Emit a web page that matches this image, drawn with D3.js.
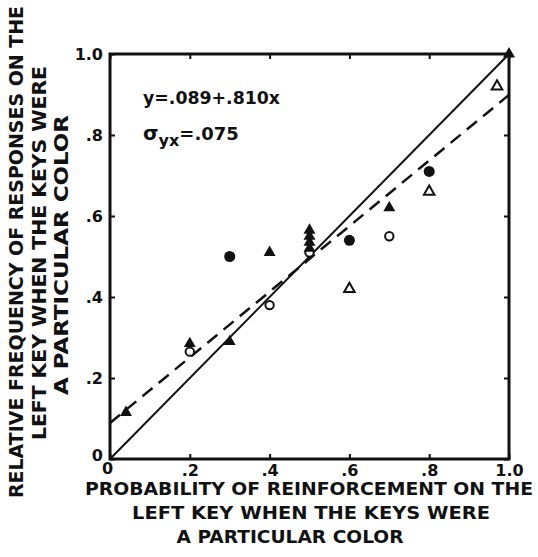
<!DOCTYPE html>
<html>
<head>
<meta charset="utf-8">
<script src="https://cdn.jsdelivr.net/npm/d3@7"></script>
<style>
  body { margin: 0; background: #fff; }
  text { font-family: "DejaVu Sans", sans-serif; font-weight: bold; fill: #111; }
</style>
</head>
<body>
<div id="chart"></div>
<script>
// data
const tickValues = [0, 0.2, 0.4, 0.6, 0.8, 1.0];
const tickLabels = ['0', '.2', '.4', '.6', '.8', '1.0'];

const filledCircles = [
  { x: 0.3, y: 0.50 }, { x: 0.6, y: 0.54 }, { x: 0.8, y: 0.71 }
];
const openCircles = [
  { x: 0.2, y: 0.265 }, { x: 0.4, y: 0.38 }, { x: 0.5, y: 0.51 }, { x: 0.7, y: 0.55 }
];
const filledTriangles = [
  { x: 0.04, y: 0.115 }, { x: 0.2, y: 0.285 }, { x: 0.3, y: 0.29 }, { x: 0.4, y: 0.51 },
  { x: 0.5, y: 0.52 }, { x: 0.5, y: 0.535 }, { x: 0.5, y: 0.55 }, { x: 0.5, y: 0.565 },
  { x: 0.7, y: 0.62 }, { x: 1.0, y: 1.0 }
];
const openTriangles = [
  { x: 0.6, y: 0.42 }, { x: 0.8, y: 0.66 }, { x: 0.97, y: 0.92 }
];

const intercept = 0.089;
const slope = 0.810;

const xTitle = ['PROBABILITY OF REINFORCEMENT ON THE', 'LEFT KEY WHEN THE KEYS WERE', 'A PARTICULAR COLOR'];
const yTitle = ['RELATIVE FREQUENCY OF RESPONSES ON THE', 'LEFT KEY WHEN THE KEYS WERE', 'A PARTICULAR COLOR'];

const W = 538, H = 557;
const plot = { left: 110, right: 509, top: 54, bottom: 459 };

const svg = d3.select('#chart')
  .append('svg')
  .attr('width', W)
  .attr('height', H);

const xScale = d3.scaleLinear().domain([0, 1]).range([plot.left, plot.right]);
const yScale = d3.scaleLinear().domain([0, 1]).range([plot.bottom, plot.top]);
const fmt = d => tickLabels[tickValues.indexOf(d)];

// axes, ticks pointing inward
const axBottom = svg.append('g')
  .attr('transform', `translate(0, ${plot.bottom})`)
  .call(d3.axisBottom(xScale).tickValues(tickValues).tickFormat(fmt).tickSize(-5).tickSizeOuter(0).tickPadding(6));
const axLeft = svg.append('g')
  .attr('transform', `translate(${plot.left}, 0)`)
  .call(d3.axisLeft(yScale).tickValues(tickValues).tickFormat(fmt).tickSize(-5).tickSizeOuter(0).tickPadding(7));
const axTop = svg.append('g')
  .attr('transform', `translate(0, ${plot.top})`)
  .call(d3.axisTop(xScale).tickValues(tickValues).tickFormat('').tickSize(-5).tickSizeOuter(0));
const axRight = svg.append('g')
  .attr('transform', `translate(${plot.right}, 0)`)
  .call(d3.axisRight(yScale).tickValues(tickValues).tickFormat('').tickSize(-5).tickSizeOuter(0));

[axBottom, axLeft, axTop, axRight].forEach(g => {
  g.select('.domain').remove();
  g.selectAll('line').attr('stroke', '#111').attr('stroke-width', 2);
  g.selectAll('text').attr('font-size', 16).attr('font-family', '"DejaVu Sans", sans-serif').attr('font-weight', 'bold').attr('fill', '#111');
});

// the two zeros at the origin sit a little off their ticks
axLeft.selectAll('.tick').filter(d => d === 0).select('text').attr('dy', '0.1em');
axBottom.selectAll('.tick').filter(d => d === 0).select('text').attr('x', -3).attr('dy', '0.55em');

// frame
svg.append('rect')
  .attr('x', plot.left)
  .attr('y', plot.top)
  .attr('width', plot.right - plot.left)
  .attr('height', plot.bottom - plot.top)
  .attr('fill', 'none')
  .attr('stroke', '#111')
  .attr('stroke-width', 3);

// identity line
svg.append('line')
  .attr('x1', xScale(0)).attr('y1', yScale(0))
  .attr('x2', xScale(1)).attr('y2', yScale(1))
  .attr('stroke', '#111')
  .attr('stroke-width', 2);

// fitted line
svg.append('line')
  .attr('x1', xScale(0)).attr('y1', yScale(intercept))
  .attr('x2', xScale(1)).attr('y2', yScale(intercept + slope))
  .attr('stroke', '#111')
  .attr('stroke-width', 2.5)
  .attr('stroke-dasharray', '13,8');

// points
const tri = d3.symbol().type(d3.symbolTriangle).size(62);

svg.selectAll('.fc')
  .data(filledCircles)
  .enter()
  .append('circle')
  .attr('cx', d => xScale(d.x))
  .attr('cy', d => yScale(d.y))
  .attr('r', 5.5)
  .attr('fill', '#111');

svg.selectAll('.oc')
  .data(openCircles)
  .enter()
  .append('circle')
  .attr('cx', d => xScale(d.x))
  .attr('cy', d => yScale(d.y))
  .attr('r', 4.2)
  .attr('fill', '#fff')
  .attr('stroke', '#111')
  .attr('stroke-width', 2);

svg.selectAll('.ft')
  .data(filledTriangles)
  .enter()
  .append('path')
  .attr('d', tri)
  .attr('transform', d => `translate(${xScale(d.x)}, ${yScale(d.y)})`)
  .attr('fill', '#111');

svg.selectAll('.ot')
  .data(openTriangles)
  .enter()
  .append('path')
  .attr('d', d3.symbol().type(d3.symbolTriangle).size(48))
  .attr('transform', d => `translate(${xScale(d.x)}, ${yScale(d.y)})`)
  .attr('fill', '#fff')
  .attr('stroke', '#111')
  .attr('stroke-width', 2);

// equation text
svg.append('text')
  .attr('x', 143)
  .attr('y', 104)
  .attr('font-size', 18)
  .attr('textLength', 137)
  .attr('lengthAdjust', 'spacingAndGlyphs')
  .text(`y=.${String(Math.round(intercept * 1000)).padStart(3, '0')}+.${Math.round(slope * 1000)}x`);

const sig = svg.append('text')
  .attr('x', 143)
  .attr('y', 140)
  .attr('font-size', 18);
sig.append('tspan').attr('font-size', 20).text('σ');
sig.append('tspan').attr('dy', 6).attr('font-size', 16).text('yx');
sig.append('tspan').attr('dy', -6).text('=.075');

// axis titles
svg.selectAll('.xt')
  .data(xTitle)
  .enter()
  .append('text')
  .attr('x', (d, i) => [309, 311, 290][i])
  .attr('y', (d, i) => 495 + i * 24)
  .attr('text-anchor', 'middle')
  .attr('font-size', 18)
  .attr('textLength', (d, i) => [448, 358, 227][i])
  .attr('lengthAdjust', 'spacingAndGlyphs')
  .text(d => d);

svg.selectAll('.yt')
  .data(yTitle)
  .enter()
  .append('text')
  .attr('transform', (d, i) => `translate(${[23, 46, 68][i]}, ${[252, 253, 255][i]}) rotate(-90)`)
  .attr('text-anchor', 'middle')
  .attr('font-size', 19)
  .attr('textLength', (d, i) => [492, 374, 280][i])
  .attr('lengthAdjust', 'spacingAndGlyphs')
  .text(d => d);
</script>
</body>
</html>
